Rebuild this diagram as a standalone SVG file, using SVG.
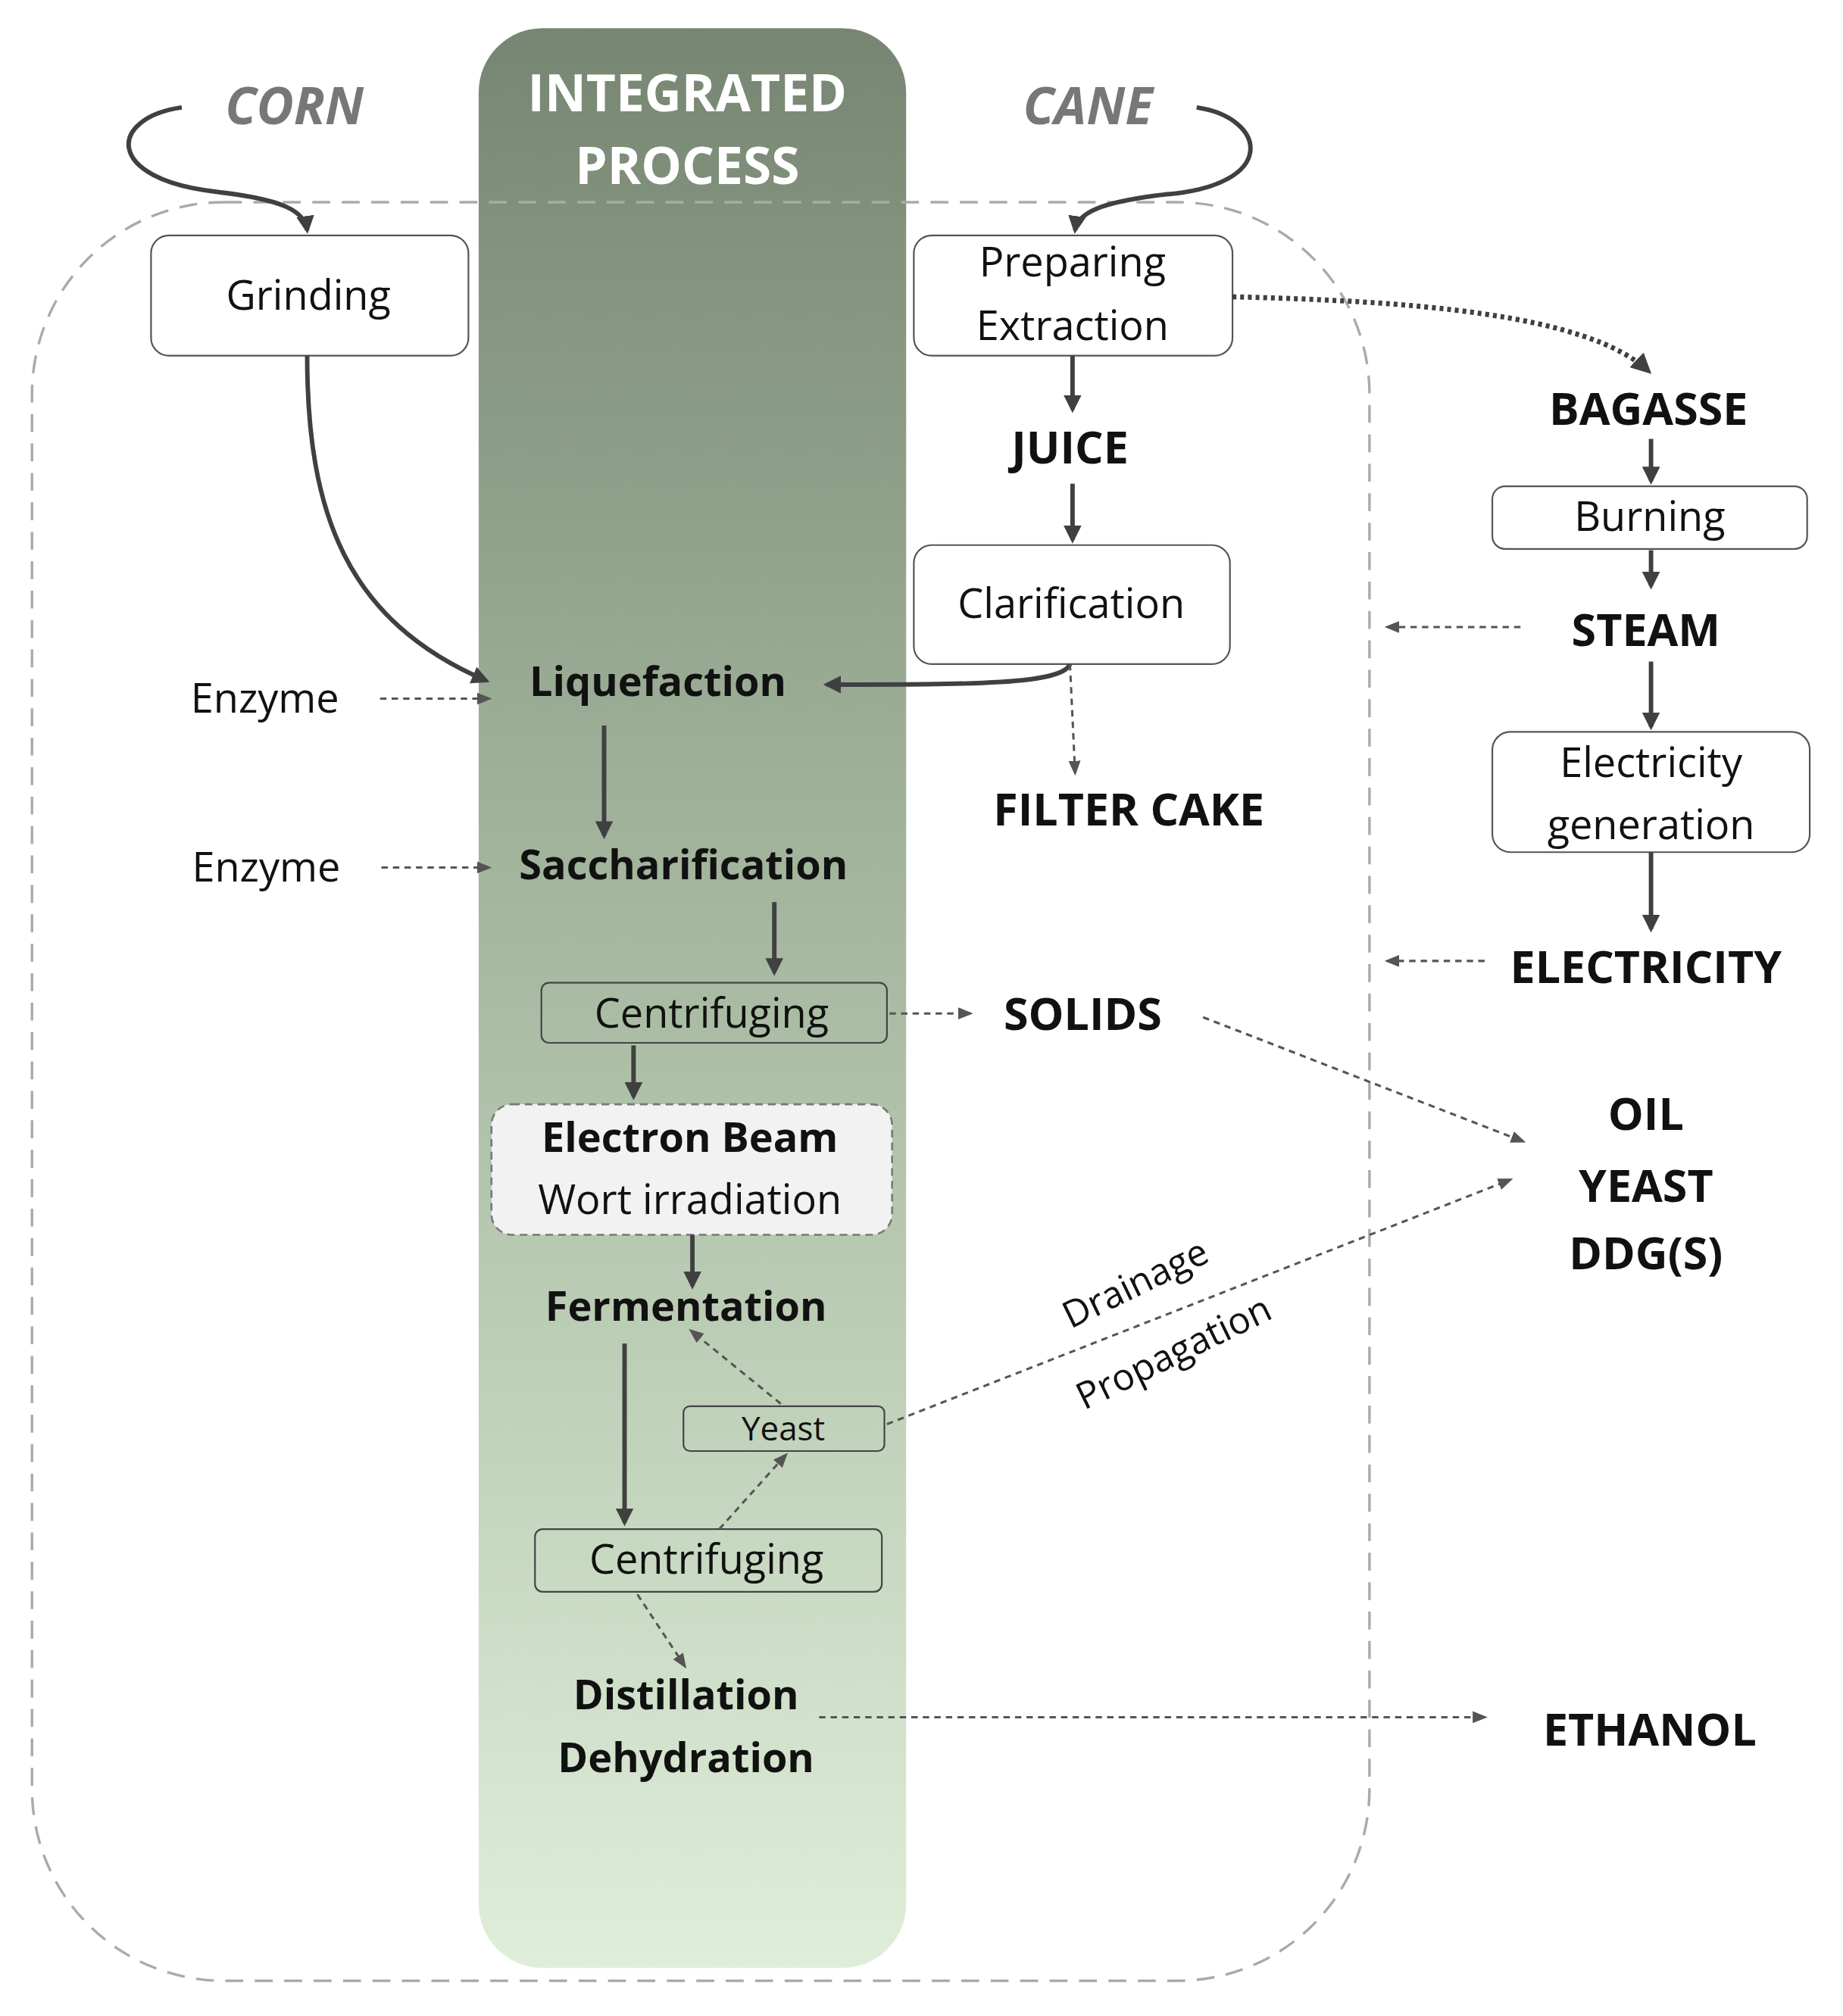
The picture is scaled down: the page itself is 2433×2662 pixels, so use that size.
<svg xmlns="http://www.w3.org/2000/svg" width="2433" height="2662" viewBox="0 0 2433 2662">
<style>
text{font-family:"Open Sans","Noto Sans",sans-serif;text-anchor:middle;fill:#111}
.n{font-size:32px}
.b{font-size:32px;font-weight:bold}
.B{font-size:35px;font-weight:bold}
.box{fill:#fff;stroke:#555;stroke-width:1.3}
.gbox{fill:none;stroke:#444;stroke-width:1.3}
.s{fill:none;stroke:#404040;stroke-width:3.5;marker-end:url(#a)}
.d{fill:none;stroke:#555;stroke-width:1.8;stroke-dasharray:5 4;marker-end:url(#ad)}
</style>
<defs>
<linearGradient id="g" x1="0" y1="0" x2="0" y2="1"><stop offset="0" stop-color="#778672"/><stop offset="0.5" stop-color="#a9bca3"/><stop offset="1" stop-color="#dfeed9"/></linearGradient>
<marker id="a" viewBox="0 0 10 10" refX="8" refY="5" markerWidth="4" markerHeight="4" orient="auto"><path d="M0,0L10,5L0,10z" fill="#404040"/></marker>
<marker id="ad" viewBox="0 0 10 10" refX="8" refY="5" markerWidth="6.5" markerHeight="6.5" orient="auto"><path d="M0,1L10,5L0,9z" fill="#555"/></marker>
</defs>
<rect width="2433" height="2662" fill="#fff"/>
<g transform="scale(1.6896)">
<rect x="374" y="22" width="334" height="1516" rx="50" fill="url(#g)"/>
<rect x="25" y="158" width="1045" height="1390" rx="150" fill="none" stroke="#aaa" stroke-width="2" stroke-dasharray="14 9"/>
<g id="titles">
<text x="537" y="87" style="font-size:40px;font-weight:bold;fill:#fff">INTEGRATED</text>
<text x="537" y="144" style="font-size:40px;font-weight:bold;fill:#fff">PROCESS</text>
<text x="230" y="97" style="font-size:40px;font-weight:bold;font-style:italic;fill:#777">CORN</text>
<text x="850" y="97" style="font-size:40px;font-weight:bold;font-style:italic;fill:#777">CANE</text>
</g>
<g id="grinding"><rect class="box" x="118" y="184" width="248" height="94" rx="14"/><text class="n" x="241" y="242">Grinding</text></g>
<g id="prep"><rect class="box" x="714" y="184" width="249" height="94" rx="14"/><text class="n" x="838" y="216">Preparing</text><text class="n" x="838" y="266">Extraction</text></g>
<g id="juice"><text class="B" x="836" y="362">JUICE</text></g>
<g id="clar"><rect class="box" x="714" y="426" width="247" height="93" rx="14"/><text class="n" x="837" y="483">Clarification</text></g>
<g id="filtercake"><text class="B" x="882" y="645">FILTER CAKE</text></g>
<g id="bagasse"><text class="B" x="1288" y="332">BAGASSE</text></g>
<g id="burning"><rect class="box" x="1166" y="380" width="246" height="49" rx="10"/><text class="n" x="1289" y="415">Burning</text></g>
<g id="steam"><text class="B" x="1286" y="505">STEAM</text></g>
<g id="elecgen"><rect class="box" x="1166" y="572" width="248" height="94" rx="14"/><text class="n" x="1290" y="607">Electricity</text><text class="n" x="1290" y="656">generation</text></g>
<g id="electricity"><text class="B" x="1286" y="768">ELECTRICITY</text></g>
<g id="enz1"><text class="n" x="207" y="557">Enzyme</text></g>
<g id="enz2"><text class="n" x="208" y="689">Enzyme</text></g>
<g id="liq"><text class="b" x="514" y="544">Liquefaction</text></g>
<g id="sacch"><text class="b" x="534" y="687">Saccharification</text></g>
<g id="centr1"><rect class="gbox" x="423" y="768" width="270" height="47" rx="6"/><text class="n" x="556" y="803">Centrifuging</text></g>
<g id="solids"><text class="B" x="846" y="805">SOLIDS</text></g>
<g id="ebeam"><rect x="384" y="863" width="313" height="102" rx="16" fill="#f2f2f2" stroke="#777" stroke-width="1.5" stroke-dasharray="6 4"/><text class="b" x="539" y="900">Electron Beam</text><text class="n" x="539" y="949">Wort irradiation</text></g>
<g id="ferm"><text class="b" x="536" y="1032">Fermentation</text></g>
<g id="yeast"><rect class="gbox" x="534" y="1099" width="157" height="35" rx="5"/><text x="612" y="1126" style="font-size:26px">Yeast</text></g>
<g id="centr2"><rect class="gbox" x="418" y="1195" width="271" height="49" rx="6"/><text class="n" x="552" y="1230">Centrifuging</text></g>
<g id="dist"><text class="b" x="536" y="1336">Distillation</text><text class="b" x="536" y="1385">Dehydration</text></g>
<g id="coprod"><text class="B" x="1286" y="883">OIL</text><text class="B" x="1286" y="939">YEAST</text><text class="B" x="1286" y="992">DDG(S)</text></g>
<g id="ethanol"><text class="B" x="1289" y="1364">ETHANOL</text></g>
<g id="labels">
<text x="887" y="1013" style="font-size:29px" transform="rotate(-26 887 1003)">Drainage</text>
<text x="917" y="1067" style="font-size:29px" transform="rotate(-26 917 1057)">Propagation</text>
</g>
<g id="connectors">
<path class="s" d="M142,84 C85,92 80,140 170,150 C222,156 238,165 240,180"/>
<path class="s" d="M935,84 C990,92 1000,145 910,152 C860,158 842,166 840,180"/>
<path class="s" d="M240,278 C240,400 270,485 380,532"/>
<path class="s" d="M836,519 C830,535 760,535 646,535"/>
<path class="s" d="M838,278 V320"/>
<path class="s" d="M838,378 V422"/>
<path d="M963,232 C1100,235 1240,245 1288,290" fill="none" stroke="#404040" stroke-width="4" stroke-dasharray="3 3" marker-end="url(#a)"/>
<path class="d" d="M836,519 L840,604"/>
<path class="s" d="M1290,343 V376"/>
<path class="s" d="M1290,430 V458"/>
<path class="s" d="M1290,517 V568"/>
<path class="s" d="M1290,666 V726"/>
<path class="d" d="M1188,490 H1084"/>
<path class="d" d="M1160,751 H1084"/>
<path class="d" d="M297,546 H382"/>
<path class="d" d="M298,678 H382"/>
<path class="s" d="M472,567 V653"/>
<path class="s" d="M605,705 V760"/>
<path class="d" d="M695,792 H758"/>
<path class="s" d="M495,817 V857"/>
<path class="s" d="M541,965 V1005"/>
<path class="d" d="M940,795 L1190,892"/>
<path class="d" d="M693,1113 L1180,922"/>
<path class="s" d="M488,1050 V1190"/>
<path class="d" d="M610,1097 L540,1040"/>
<path class="d" d="M562,1195 L614,1137"/>
<path class="d" d="M498,1246 L535,1302"/>
<path class="d" d="M640,1342 H1160"/>
</g>
</g>
</svg>
